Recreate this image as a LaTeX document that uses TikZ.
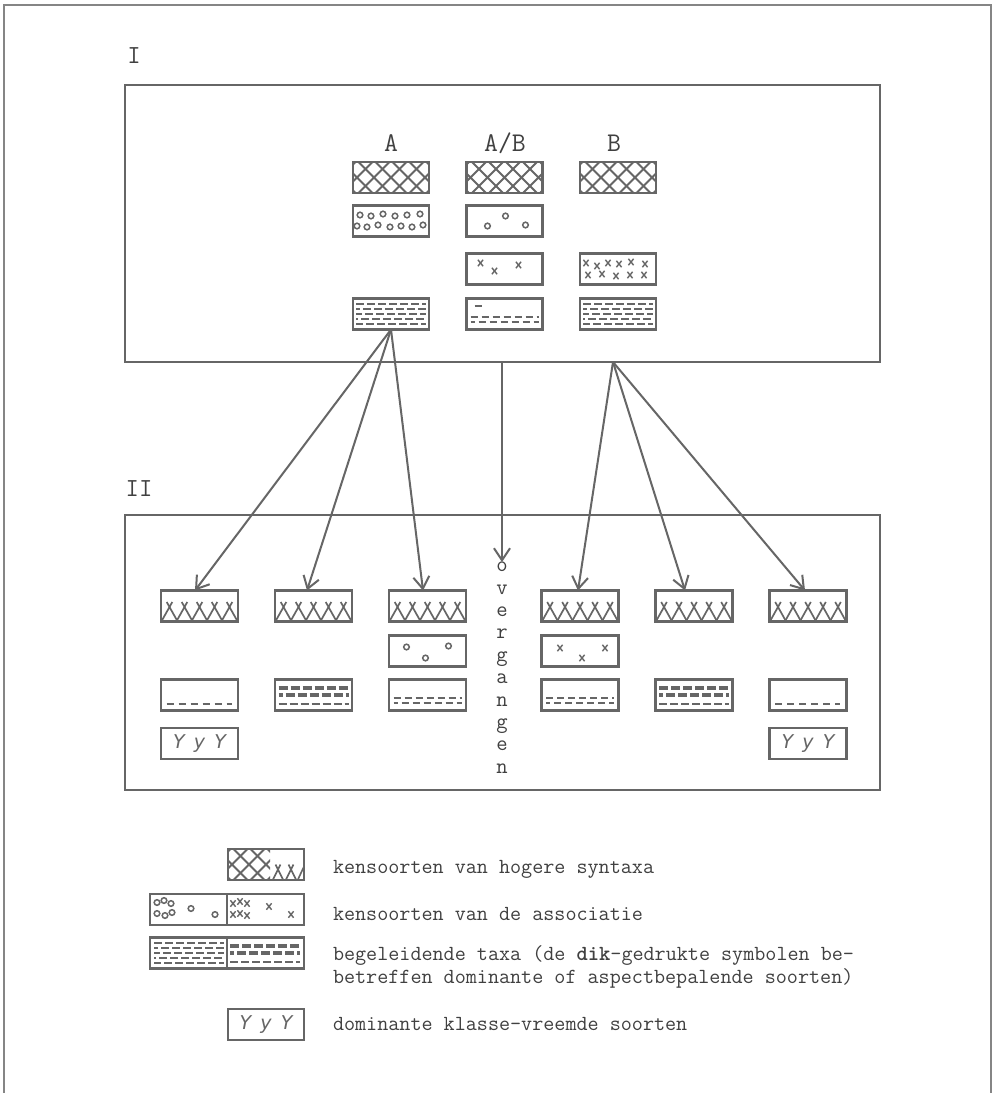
\documentclass[tikz,border=0pt]{standalone}
\usepackage{fontspec}
\setsansfont{DejaVu Sans}
\usetikzlibrary{arrows.meta}
\definecolor{ink}{HTML}{666666}
\definecolor{txt}{HTML}{404040}

\newcommand\pxm[2]{\draw[line width=1.4pt,ink] (#1-2.6,#2-3.2) -- (#1+2.6,#2+3.2) (#1+2.6,#2-3.2) -- (#1-2.6,#2+3.2);}
\newcommand\pcirc[2]{\draw[line width=1.5pt,ink] (#1,#2) circle (2.8);}
\newcommand\phatch{\foreach \i in {-85,-68,...,85}{\draw[line width=1.9pt,ink] (\i-17,-17) -- (\i+17,17) (\i-17,17) -- (\i+17,-17);}}
\newcommand\pzig{\foreach \a in {-30,-15,...,30}{\draw[line width=1.7pt,ink] (\a-9,17) -- (\a+2.8,-4) (\a+9,17) -- (\a-2.8,-4);}}
\newcommand\pcircdense{\foreach \u/\v in {-31/-6,-20/-5,-8/-7,4/-5,16/-6,29/-7,-34/5,-24/6,-13/4,-1/6,10/5,21/6,32/4}{\pcirc{\u}{\v}}}
\newcommand\pxdense{\foreach \u/\v in {-32/-6,-21/-3,-10/-6,1/-5,13/-7,27/-5,-30/6,-16/5,-2/7,12/6,26/6}{\pxm{\u}{\v}}}
\newcommand\pthin[1][0]{\foreach \r/\ph in {-10/0,-5/4,0/2,5/6,10/1}{\draw[ink,line width=2.3pt,dash pattern=on 8pt off 3pt,dash phase=\ph pt] (#1-35,\r) -- (#1+35,\r);}}
\newcommand\pthick[1][0]{\foreach \r/\ph in {-7/0,0/5}{\draw[ink,line width=4.8pt,dash pattern=on 9pt off 3pt,dash phase=\ph pt] (#1-35,\r) -- (#1+35,\r);}
  \draw[ink,line width=2.3pt,dash pattern=on 8pt off 3pt] (#1-35,9) -- (#1+35,9);}
\newcommand\ptwo{\draw[ink,line width=2.1pt,dash pattern=on 7pt off 4pt] (-34,3) -- (34,3);
  \draw[ink,line width=2.1pt,dash pattern=on 7pt off 4pt,dash phase=3pt] (-34,8) -- (34,8);}
\newcommand\pone{\draw[ink,line width=2.1pt,dash pattern=on 7pt off 5pt] (-33,9) -- (32,9);}

\begin{document}
\begin{tikzpicture}[x=1pt,y=-1pt,
 every node/.style={inner sep=0pt,outer sep=0pt},
 lbl/.style={text=txt,font=\ttfamily\fontsize{26}{26}\selectfont},
 hdr/.style={text=txt,font=\ttfamily\fontsize{27}{27}\selectfont},
 leg/.style={text=txt,font=\ttfamily\fontsize{21.5}{23}\selectfont,anchor=west,align=left},
 frame/.style={draw=ink,line width=2.4pt},
 cell/.style={draw=ink,line width=2.6pt,minimum width=76pt,minimum height=31pt},
 wcell/.style={cell,minimum width=154pt},
 pat/.style={path picture={\begin{scope}[shift={(path picture bounding box.center)}]#1\end{scope}}},
 yyy/.style={cell,text=ink,font=\sffamily\slshape\fontsize{19}{19}\selectfont},
 arr/.style={draw=ink,line width=2pt,-{Straight Barb[length=12pt,width=16pt]}},
]
\useasboundingbox (0,0) rectangle (996,1093);
\fill[white] (0,0) rectangle (996,1093);
\draw[ink!80,line width=1.2pt] (4,1093) -- (4,5) -- (991,5) -- (991,1093);

% ---------- I ----------
\node[lbl] (labI) at (134,56) {I};
\node[frame,minimum width=755pt,minimum height=277pt] (boxI) at (502.5,223.5) {};
\node[hdr] (hA) at (391,143) {A};
\node[hdr] (hAB) at (505,143) {A/B};
\node[hdr] (hB) at (614,143) {B};

\node[cell,pat={\phatch}] (Ia1) at (391,177.5) {};
\node[cell,pat={\phatch}] (Ib1) at (504.5,177.5) {};
\node[cell,pat={\phatch}] (Ic1) at (618,177.5) {};

\node[cell,pat={\pcircdense}] (Ia2) at (391,221) {};
\node[cell,pat={\pcirc{-17}{5}\pcirc{1}{-5}\pcirc{21}{4}}] (Ib2) at (504.5,221) {};

\node[cell,pat={\pxm{-24}{-6}\pxm{-10}{2}\pxm{14}{-4}}] (Ib3) at (504.5,269) {};
\node[cell,pat={\pxdense}] (Ic3) at (618,269) {};

\node[cell,pat={\pthin}] (Ia4) at (391,314) {};
\node[cell,pat={\draw[ink,line width=2.1pt] (-30,-8) -- (-23,-8);\ptwo}] (Ib4) at (504.5,314) {};
\node[cell,pat={\pthin}] (Ic4) at (618,314) {};

\coordinate (Bsrc) at (613,362);
\coordinate (Msrc) at (502,362);

% ---------- II ----------
\node[lbl] (labII) at (139,489) {II};
\node[frame,minimum width=755pt,minimum height=275pt] (boxII) at (502.5,652.5) {};

\node[cell,minimum width=77pt,pat={\pzig}] (IIa1) at (199.5,606) {};
\node[cell,minimum width=77pt,pat={\pzig}] (IIb1) at (313.5,606) {};
\node[cell,minimum width=77pt,pat={\pzig}] (IIc1) at (427.5,606) {};
\node[cell,minimum width=77pt,pat={\pzig}] (IId1) at (580,606) {};
\node[cell,minimum width=77pt,pat={\pzig}] (IIe1) at (694,606) {};
\node[cell,minimum width=77pt,pat={\pzig}] (IIf1) at (808,606) {};

\node[cell,minimum width=77pt,pat={\pcirc{-21}{-4}\pcirc{-2}{7}\pcirc{21}{-5}}] (IIc2) at (427.5,651) {};
\node[cell,minimum width=77pt,pat={\pxm{-20}{-3}\pxm{2}{7}\pxm{25}{-3}}] (IId2) at (580,651) {};

\node[cell,minimum width=77pt,pat={\pone}] (IIa3) at (199.5,695) {};
\node[cell,minimum width=77pt,pat={\pthick}] (IIb3) at (313.5,695) {};
\node[cell,minimum width=77pt,pat={\ptwo}] (IIc3) at (427.5,695) {};
\node[cell,minimum width=77pt,pat={\ptwo}] (IId3) at (580,695) {};
\node[cell,minimum width=77pt,pat={\pthick}] (IIe3) at (694,695) {};
\node[cell,minimum width=77pt,pat={\pone}] (IIf3) at (808,695) {};

\node[yyy,minimum width=77pt] (IIa4) at (199.5,743.5) {Y\, y\, Y};
\node[yyy,minimum width=77pt] (IIf4) at (808,743.5) {Y\, y\, Y};

\node[text=txt,font=\ttfamily\fontsize{22}{22.4}\selectfont,align=center,anchor=north] (overg) at (502,562) {o\\v\\e\\r\\g\\a\\n\\g\\e\\n};

% ---------- arrows ----------
\draw[arr] (Ia4.south) -- ([xshift=-4.5pt]IIa1.north);
\draw[arr] (Ia4.south) -- ([xshift=-6.5pt]IIb1.north);
\draw[arr] (Ia4.south) -- ([xshift=-4.5pt]IIc1.north);
\draw[arr] (Msrc) -- (overg.north);
\draw[arr] (Bsrc) -- ([xshift=-2pt]IId1.north);
\draw[arr] (Bsrc) -- ([xshift=-9pt]IIe1.north);
\draw[arr] (Bsrc) -- ([xshift=-3pt]IIf1.north);

% ---------- legend ----------
\node[cell,pat={\begin{scope}\clip (-40,-20) rectangle (4,20);\phatch\end{scope}
   \foreach \a in {12,25}{\draw[line width=1.6pt,ink] (\a-6,17) -- (\a+2.5,0) (\a+6,17) -- (\a-2.5,0);}
   \draw[line width=1.6pt,ink] (31,17) -- (38,2);}] (L1) at (266,864.5) {};
\node[leg] (T1) at (333,869) {kensoorten van hogere syntaxa};

\node[wcell,pat={\foreach \u/\v in {-70/-7,-63/-9,-56/-6,-70/4,-62/6,-55/3}{\pcirc{\u}{\v}}\pcirc{-36}{-1}\pcirc{-12}{5}
   \foreach \u/\v in {6/-6,13/-8,20/-6,6/5,13/4,20/6}{\pxm{\u}{\v}}\pxm{42}{-3}\pxm{64}{5}
   \draw[ink,line width=2.2pt] (0,-16) -- (0,16);}] (L2) at (227,909.5) {};
\node[leg] (T2) at (333,914) {kensoorten van de associatie};

\node[wcell,pat={\pthin[-38]\pthick[38]
   \draw[ink,line width=2.2pt] (0,-16) -- (0,16);}] (L3) at (227,953) {};
\node[leg] (T3) at (333,967) {begeleidende taxa (de {\bfseries dik}-gedrukte symbolen be-\\betreffen dominante of aspectbepalende soorten)};

\node[yyy] (L4) at (266,1024.5) {Y\, y\, Y};
\node[leg] (T4) at (333,1024) {dominante klasse-vreemde soorten};
\end{tikzpicture}
\end{document}
